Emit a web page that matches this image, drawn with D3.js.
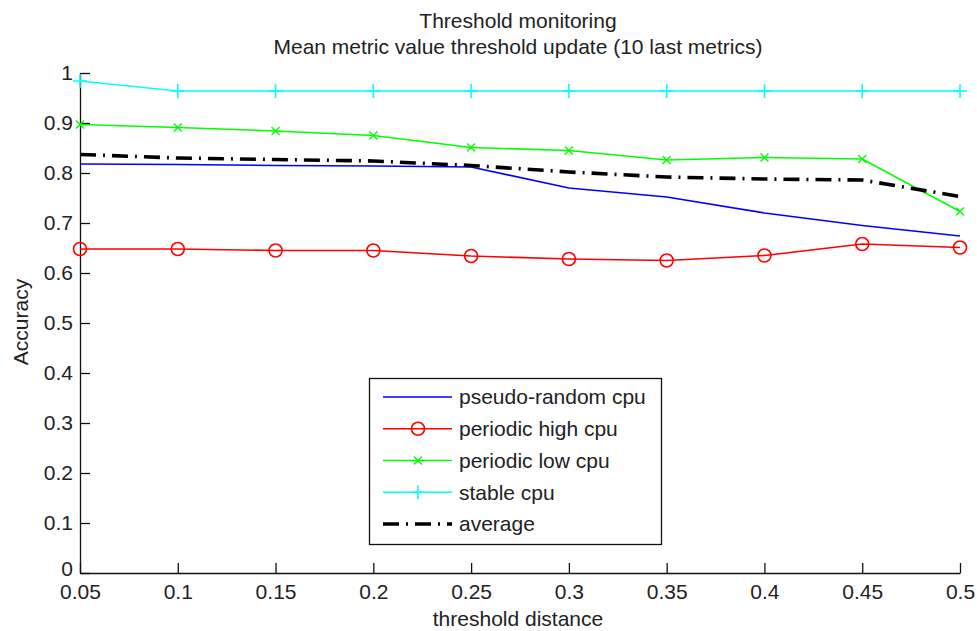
<!DOCTYPE html>
<html>
<head>
<meta charset="utf-8">
<script src="https://cdn.jsdelivr.net/npm/d3@7/dist/d3.min.js"></script>
<style>
  html, body { margin: 0; padding: 0; background: #fff; }
  svg { display: block; font-family: "Liberation Sans", Arial, sans-serif; }
  text { fill: #222; }
</style>
</head>
<body>
<svg id="chart" width="977" height="631"></svg>
<script>
// Threshold distance values on the x axis
const thresholds = [0.05, 0.1, 0.15, 0.2, 0.25, 0.3, 0.35, 0.4, 0.45, 0.5];

// Accuracy per workload
const pseudoRandomCpu = [0.818, 0.817, 0.815, 0.814, 0.812, 0.770, 0.752, 0.720, 0.695, 0.674];
const periodicHighCpu = [0.648, 0.648, 0.645, 0.645, 0.634, 0.628, 0.625, 0.635, 0.658, 0.651];
const periodicLowCpu  = [0.897, 0.891, 0.884, 0.875, 0.851, 0.845, 0.826, 0.831, 0.828, 0.723];
const stableCpu       = [0.984, 0.964, 0.964, 0.964, 0.964, 0.964, 0.964, 0.964, 0.964, 0.964];
const averageAcc      = [0.837, 0.830, 0.827, 0.824, 0.815, 0.802, 0.792, 0.788, 0.786, 0.753];

const seriesNames = ["pseudo-random cpu", "periodic high cpu", "periodic low cpu", "stable cpu", "average"];

const xTickValues = [0.05, 0.1, 0.15, 0.2, 0.25, 0.3, 0.35, 0.4, 0.45, 0.5];
const xTickLabels = ["0.05", "0.1", "0.15", "0.2", "0.25", "0.3", "0.35", "0.4", "0.45", "0.5"];
const yTickValues = [0, 0.1, 0.2, 0.3, 0.4, 0.5, 0.6, 0.7, 0.8, 0.9, 1];
const yTickLabels = ["0", "0.1", "0.2", "0.3", "0.4", "0.5", "0.6", "0.7", "0.8", "0.9", "1"];

const titleLines = ["Threshold monitoring", "Mean metric value threshold update (10 last metrics)"];
const xTitle = "threshold distance";
const yTitle = "Accuracy";

const svg = d3.select("#chart");
const FONT = 21;

const x = d3.scaleLinear().domain([0.05, 0.5]).range([80, 960]);
const y = d3.scaleLinear().domain([0, 1]).range([573, 73]);

// Series styling
const series = [
  { name: seriesNames[0], values: pseudoRandomCpu, color: "#0000ff", width: 1.6, marker: null },
  { name: seriesNames[1], values: periodicHighCpu, color: "#ff0000", width: 1.6, marker: "circle" },
  { name: seriesNames[2], values: periodicLowCpu,  color: "#00ff00", width: 1.6, marker: "x" },
  { name: seriesNames[3], values: stableCpu,       color: "#00ffff", width: 1.6, marker: "plus" },
  { name: seriesNames[4], values: averageAcc,      color: "#000000", width: 3.6, marker: null, dash: "16,7,2,7" }
];

// Axes (ticks point inward, no box)
const xAxis = d3.axisBottom(x)
  .tickValues(xTickValues)
  .tickFormat((d, i) => xTickLabels[i])
  .tickSizeInner(-10).tickSizeOuter(0).tickPadding(11);
const yAxis = d3.axisLeft(y)
  .tickValues(yTickValues)
  .tickFormat((d, i) => yTickLabels[i])
  .tickSizeInner(-10).tickSizeOuter(0).tickPadding(7);

const gx = svg.append("g").attr("transform", `translate(0,${y(0)})`).call(xAxis);
const gy = svg.append("g").attr("transform", `translate(${x(0.05)},0)`).call(yAxis);
[gx, gy].forEach(g => {
  g.selectAll("path.domain").attr("stroke", "#111").attr("stroke-width", 1.3);
  g.selectAll(".tick line").attr("stroke", "#111").attr("stroke-width", 1.3);
  g.selectAll(".tick text").attr("font-size", FONT).attr("font-family", "Liberation Sans, Arial, sans-serif").attr("fill", "#222");
});
// Lift the origin label slightly so it clears the first x tick label
gy.selectAll(".tick text").filter(d => d === 0).attr("y", -4);

// Marker drawing helper
function drawMarker(g, kind, cx, cy, color) {
  if (kind === "circle") {
    g.append("circle").attr("cx", cx).attr("cy", cy).attr("r", 6.5)
      .attr("fill", "none").attr("stroke", color).attr("stroke-width", 1.6);
  } else if (kind === "x") {
    const s = 4;
    g.append("path").attr("d", `M${cx - s},${cy - s}L${cx + s},${cy + s}M${cx - s},${cy + s}L${cx + s},${cy - s}`)
      .attr("stroke", color).attr("stroke-width", 1.4).attr("fill", "none");
  } else if (kind === "plus") {
    const s = 7;
    g.append("path").attr("d", `M${cx - s},${cy}L${cx + s},${cy}M${cx},${cy - s}L${cx},${cy + s}`)
      .attr("stroke", color).attr("stroke-width", 1.6).attr("fill", "none");
  }
}

const line = d3.line().x((d, i) => x(thresholds[i])).y(d => y(d));

const plot = svg.append("g");
series.forEach(s => {
  plot.append("path")
    .attr("d", line(s.values))
    .attr("fill", "none")
    .attr("stroke", s.color)
    .attr("stroke-width", s.width)
    .attr("stroke-dasharray", s.dash || null);
  if (s.marker) {
    const mg = plot.append("g");
    s.values.forEach((v, i) => drawMarker(mg, s.marker, x(thresholds[i]), y(v), s.color));
  }
});

// Titles
const title = svg.append("g").attr("text-anchor", "middle").attr("font-size", FONT);
title.append("text").attr("x", 518).attr("y", 28).text(titleLines[0]);
title.append("text").attr("x", 518).attr("y", 54).text(titleLines[1]);

svg.append("text").attr("x", 518).attr("y", 626).attr("text-anchor", "middle")
  .attr("font-size", FONT).text(xTitle);
svg.append("text").attr("transform", "translate(28,322) rotate(-90)")
  .attr("text-anchor", "middle").attr("font-size", FONT).text(yTitle);

// Legend
const legend = svg.append("g");
legend.append("rect").attr("x", 369.5).attr("y", 378.5).attr("width", 292).attr("height", 166)
  .attr("fill", "#fff").attr("stroke", "#111").attr("stroke-width", 1.3);
const rowY = d3.scaleLinear().domain([0, 4]).range([397, 524]);
series.forEach((s, i) => {
  const ry = rowY(i);
  legend.append("line").attr("x1", 383).attr("x2", 452).attr("y1", ry).attr("y2", ry)
    .attr("stroke", s.color).attr("stroke-width", s.width)
    .attr("stroke-dasharray", s.dash || null);
  if (s.marker) drawMarker(legend, s.marker, 418, ry, s.color);
  legend.append("text").attr("x", 459).attr("y", ry).attr("dy", "0.35em")
    .attr("font-size", FONT).text(s.name);
});
</script>
</body>
</html>
